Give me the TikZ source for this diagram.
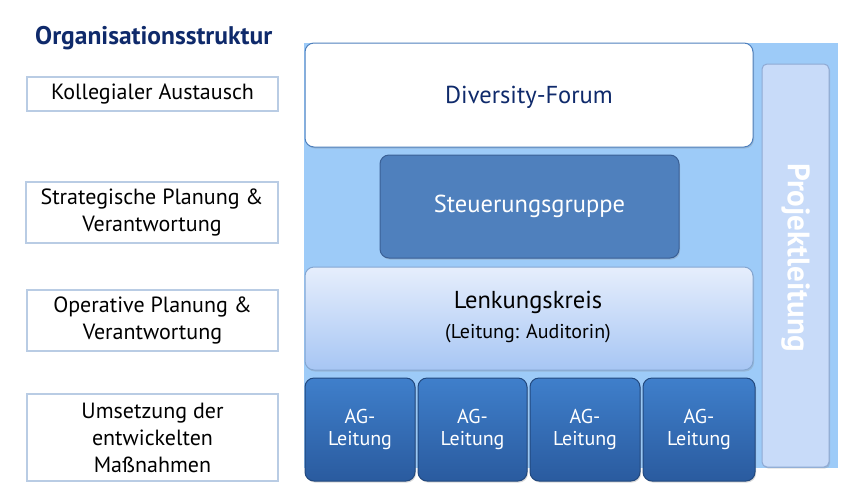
\documentclass[tikz,border=0pt]{standalone}
\usepackage{fontspec}
\setmainfont{PT Sans}
\usetikzlibrary{shadows}
\definecolor{navy}{HTML}{0F2A6B}
\definecolor{bgblue}{HTML}{9DCBF8}
\definecolor{lbord}{HTML}{B9CCE4}
\definecolor{midblue}{HTML}{4F80BD}
\definecolor{darkbord}{HTML}{3A6096}
\definecolor{lenktop}{HTML}{E6EEFC}
\definecolor{lenkbot}{HTML}{A7C6F4}
\definecolor{agtop}{HTML}{3F7FCB}
\definecolor{agbot}{HTML}{2A5B9F}
\definecolor{projfill}{HTML}{C8DBF9}
\definecolor{projbord}{HTML}{8FA9D3}
\tikzset{
  x=1pt,y=-1pt,
  lbox/.style={draw=lbord,line width=1.6pt,fill=white,align=center,font=\fontsize{22}{27}\selectfont,inner sep=0pt},
  rbox/.style={rounded corners=9pt,line width=1pt},
  agbox/.style={rbox,draw=agbot!80!black,top color=agtop,bottom color=agbot,text=white,align=center,font=\fontsize{20}{22}\selectfont,drop shadow={shadow xshift=1pt,shadow yshift=-1.5pt,opacity=.3}},
}
\begin{document}
\begin{tikzpicture}
\useasboundingbox (0,0) rectangle (852,491);
\fill[white] (0,0) rectangle (852,491);
\node[font=\fontsize{25.5}{30}\selectfont\bfseries,text=navy,anchor=west,inner sep=0pt] (title) at (35,38) {Organisationsstruktur};
% left labels
\node[lbox,minimum width=251pt,minimum height=34pt] (l1) at (152.5,94) {Kollegialer Austausch};
\node[lbox,minimum width=252pt,minimum height=61pt] (l2) at (152,212.5) {Strategische Planung \&\\Verantwortung};
\node[lbox,minimum width=251pt,minimum height=61pt] (l3) at (152.5,320.5) {Operative Planung \&\\Verantwortung};
\node[lbox,minimum width=251pt,minimum height=87pt] (l4) at (152.5,437.5) {Umsetzung der\\entwickelten\\Maßnahmen};
% background
\fill[bgblue] (304,43) rectangle (838,468);
% Projektleitung
\node[rbox,rounded corners=5pt,draw=projbord,fill=projfill,minimum width=67pt,minimum height=403pt,drop shadow={shadow xshift=1pt,shadow yshift=-1.5pt,opacity=.25}] (proj) at (795.5,265.5) {};
\node[rotate=-90,text=white,font=\fontsize{31}{36}\selectfont\bfseries] (projt) at ([yshift=8pt]proj.center) {Projektleitung};
% Diversity-Forum
\node[rbox,draw=midblue,fill=white,minimum width=448pt,minimum height=104pt,drop shadow={shadow xshift=1pt,shadow yshift=-1.5pt,opacity=.25}] (df) at (529,95) {};
\node[text=navy,font=\fontsize{24.5}{29}\selectfont] (dft) at (529,97) {Diversity-Forum};
% Steuerungsgruppe
\node[rbox,draw=darkbord,fill=midblue,minimum width=299pt,minimum height=103pt,text=white,font=\fontsize{24.5}{29}\selectfont,drop shadow={shadow xshift=1pt,shadow yshift=-1.5pt,opacity=.3}] (sg) at (529.5,206.5) {Steuerungsgruppe};
% Lenkungskreis
\node[rbox,draw=midblue!70,top color=lenktop,bottom color=lenkbot,minimum width=448pt,minimum height=103pt,drop shadow={shadow xshift=1pt,shadow yshift=-1.5pt,opacity=.25}] (lk) at (529,318.5) {};
\node[font=\fontsize{24.5}{29}\selectfont] (lkt) at (528,302) {Lenkungskreis};
\node[font=\fontsize{20}{24}\selectfont] (lks) at (528,334) {(Leitung: Auditorin)};
% AG boxes
\node[agbox,minimum width=110pt,minimum height=103pt] (ag1) at (360,429.5) {AG-\\Leitung};
\node[agbox,minimum width=109pt,minimum height=103pt] (ag2) at (472.5,429.5) {AG-\\Leitung};
\node[agbox,minimum width=110pt,minimum height=103pt] (ag3) at (585,429.5) {AG-\\Leitung};
\node[agbox,minimum width=112pt,minimum height=103pt] (ag4) at (699,429.5) {AG-\\Leitung};
\end{tikzpicture}
\end{document}
